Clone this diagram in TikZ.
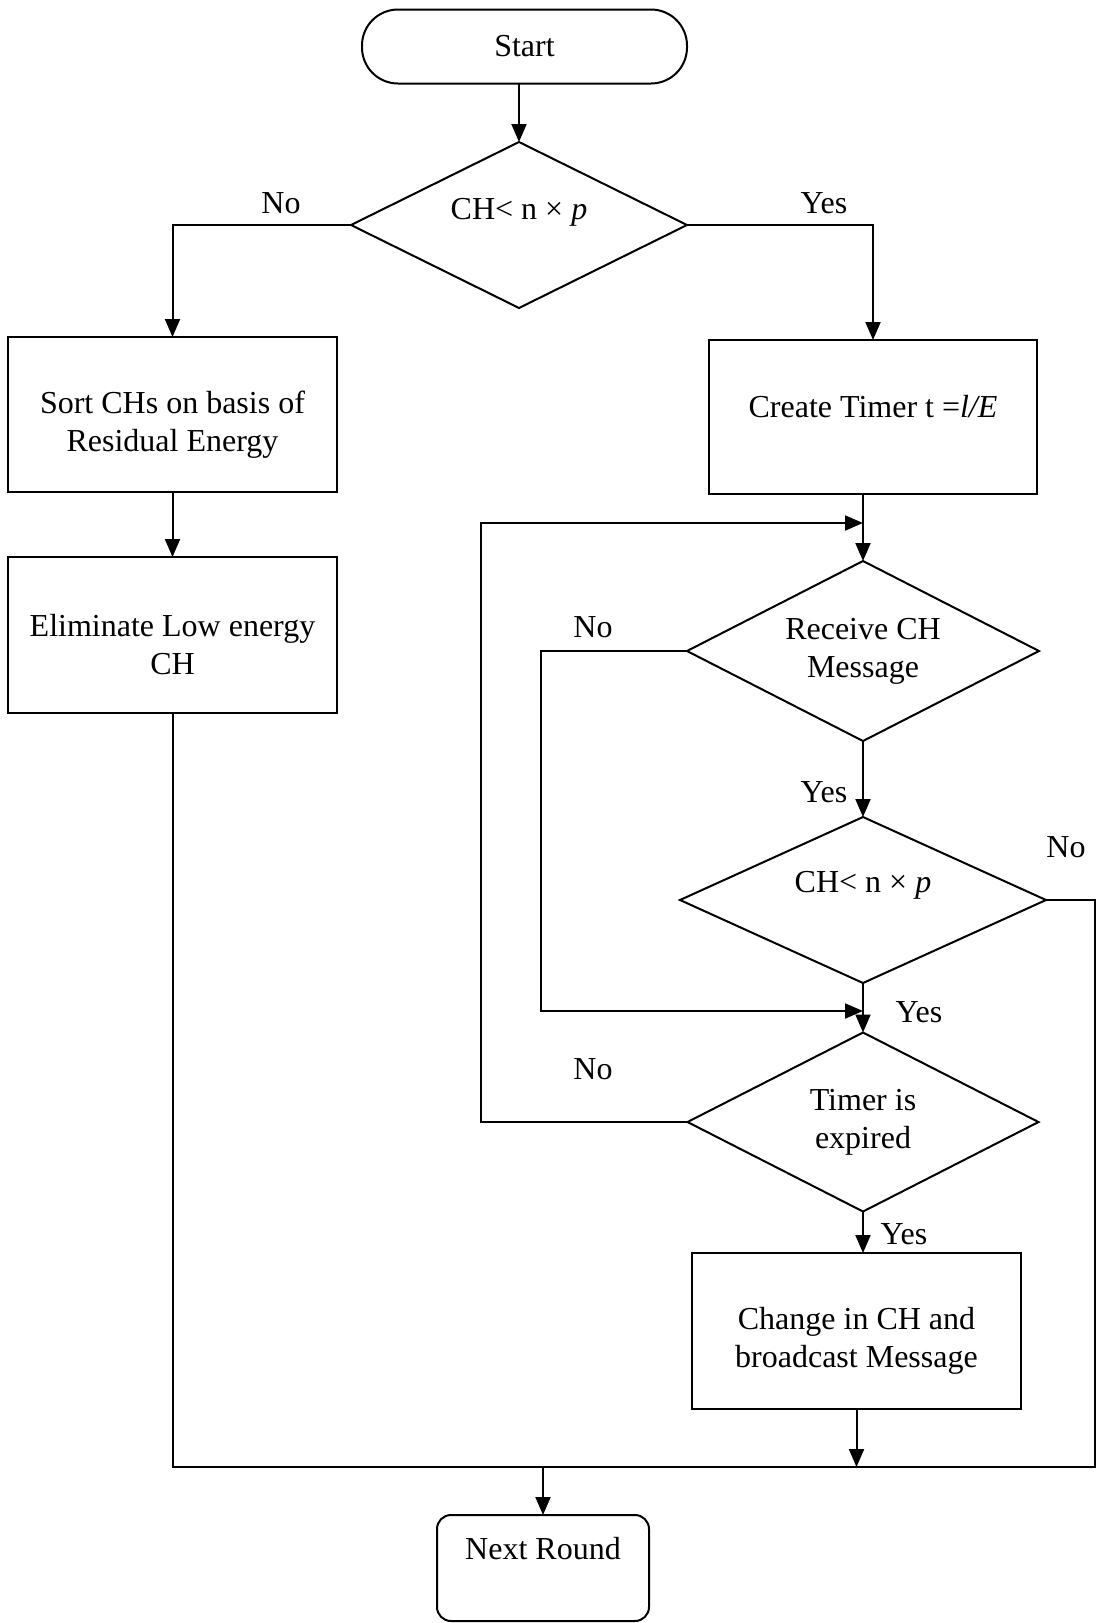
\documentclass[tikz,border=0pt]{standalone}
\usepackage{fontspec}
\setmainfont{Liberation Serif}
\usetikzlibrary{arrows.meta,shapes.geometric}
% tall invisible strut that pushes a text block down inside its box
\newcommand{\lowstrut}{\rule{0pt}{21pt}}
\begin{document}
\begin{tikzpicture}[x=0.5pt,y=-0.5pt,
  font=\fontsize{16}{19}\selectfont,
  every node/.style={outer sep=0pt},
  box/.style={draw,line width=1.1pt,rectangle,align=center,inner sep=2pt},
  decision/.style={draw,line width=1pt,diamond,shape aspect=2,align=center,inner sep=0pt},
  terminal/.style={draw,line width=1pt,rectangle,align=center},
  flow/.style={line width=1pt},
  arr/.style={flow,-{Triangle[length=9pt,width=7.5pt]}},
  tag/.style={inner sep=1pt}]
\useasboundingbox (0,0) rectangle (1097,1623);

% process steps
\node[terminal, rounded corners=18pt, minimum width=162.5pt, minimum height=37pt] (start) at (524.5,46.5) {Start};
\node[decision, minimum width=168pt, minimum height=83pt, text depth=16pt] (d1) at (519,225) {CH< n × \textit{p}};
\node[box, minimum width=164.5pt, minimum height=77.5pt] (sort) at (172.5,414.5) {\lowstrut Sort CHs on basis of\\Residual Energy};
\node[box, minimum width=164.5pt, minimum height=78pt] (elim) at (172.5,635) {\lowstrut Eliminate Low energy\\CH};
\node[box, minimum width=164pt, minimum height=77pt, text depth=11pt] (timer) at (873,417) {Create Timer t =\textit{l/E}};
\node[decision, minimum width=176pt, minimum height=90pt] (recv) at (863,651) {Receive CH\\Message};
\node[decision, minimum width=183pt, minimum height=83pt, text depth=18.5pt] (ch2) at (863,900) {CH< n × \textit{p}};
\node[decision, minimum width=175.5pt, minimum height=89.5pt] (exp) at (863,1122) {Timer is\\expired};
\node[box, minimum width=164.5pt, minimum height=78pt] (change) at (856.5,1331) {\lowstrut Change in CH and\\broadcast Message};
\node[terminal, rounded corners=7pt, minimum width=106pt, minimum height=53pt, text depth=19.5pt] (next) at (543,1568) {Next Round};

% routing points
\coordinate (loopTop) at (481,523);
\coordinate (skip) at (541,1011);
\coordinate (rightTop) at (1095,900);
\coordinate (mergeL) at (172.5,1467);

% connectors
\draw[arr] (start.south -| d1.north) -- (d1.north);
\draw[arr] (d1.west) -| (sort.north);
\draw[arr] (d1.east) -| (timer.north);
\draw[arr] (sort.south) -- (elim.north);
\draw[arr] (recv.north |- timer.south) -- (recv.north);
\draw[arr] (exp.west) -| (loopTop) -- (recv.north |- loopTop);
\draw[arr] (recv.west) -| (skip) -- (exp.north |- skip);
\draw[arr] (recv.south) -- (ch2.north);
\draw[arr] (ch2.south) -- (exp.north);
\draw[arr] (exp.south) -- (exp.south |- change.north);
\draw[flow] (ch2.east) -- (rightTop) |- (mergeL) -- (elim.south);
\draw[arr] (change.south) -- (change.south |- mergeL);
\draw[arr] (next.north |- mergeL) -- (next.north);

% branch labels
\node[tag] (no1) at (281,203) {No};
\node[tag] (yes1) at (824,203) {Yes};
\node[tag] (no2) at (593,627) {No};
\node[tag] (yes2) at (824,792) {Yes};
\node[tag] (no3) at (1066,847) {No};
\node[tag] (yes3) at (919,1012) {Yes};
\node[tag] (no4) at (593,1069) {No};
\node[tag] (yes4) at (904,1234) {Yes};
\end{tikzpicture}
\end{document}
